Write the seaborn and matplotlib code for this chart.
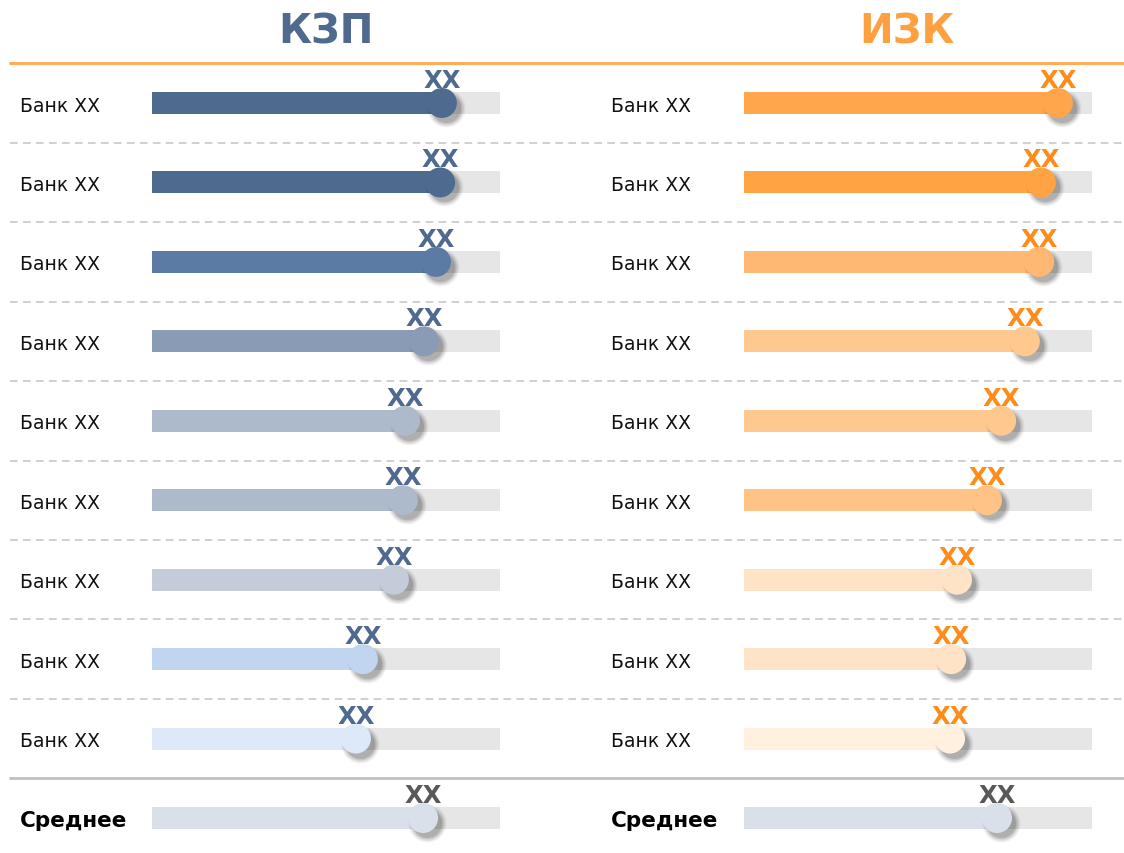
import matplotlib
matplotlib.use("Agg")
import numpy as np
import pandas as pd
import matplotlib.pyplot as plt
import seaborn as sns
from matplotlib.transforms import blended_transform_factory, offset_copy

# ---- data -------------------------------------------------------------
banks = ["Банк XX"] * 9
avg_label = "Среднее"

kzp_title = "КЗП"
kzp_values = [83.3, 82.8, 81.6, 78.2, 72.7, 72.1, 69.5, 60.6, 58.6]
kzp_avg = 77.9
kzp_value_labels = ["XX"] * 9
kzp_avg_value_label = "XX"

izk_title = "ИЗК"
izk_values = [90.2, 85.3, 84.8, 80.7, 73.9, 69.8, 61.2, 59.5, 59.2]
izk_avg = 72.7
izk_value_labels = ["XX"] * 9
izk_avg_value_label = "XX"

# ---- styles -----------------------------------------------------------
kzp_fills = ["#4f6a8f", "#4f6a8f", "#5c7ba4", "#8a9cb5", "#adbacb",
             "#adbacb", "#c4ccda", "#c1d5f0", "#dde8f8"]
izk_fills = ["#ffa64d", "#ffa343", "#ffb874", "#ffc88f", "#ffc88f",
             "#ffc385", "#ffe3c6", "#ffe3c6", "#fff0e0"]
avg_fill = "#d9e0ea"
track_color = "#e6e6e6"
kzp_color = "#50698f"
izk_title_color = "#ffa040"
izk_label_color = "#ff8c1a"
avg_text_color = "#595959"

W, H = 1124, 854
sns.set_theme(style="white")
plt.rcParams["font.family"] = ["DejaVu Sans"]

fig = plt.figure(figsize=(W / 100, H / 100), dpi=100)

ROW0, STEP = 104, 715 / 9
TOP = 64
y_top = -(ROW0 - TOP) / STEP
y_bottom = (H - ROW0) / STEP
BAR_W = 22 / STEP
CIRCLE_D_PT = 30 * 0.72


def draw_panel(x0, x1, title, title_x, title_color, values, avg, fills,
               value_labels, avg_value_label, label_color, label_x):
    ax = fig.add_axes([x0 / W, 0, (x1 - x0) / W, (H - TOP) / H])
    positions = np.arange(len(values) + 1)
    vals = list(values) + [avg]
    colors = list(fills) + [avg_fill]
    keys = [f"r{i}" for i in positions]
    df = pd.DataFrame({"pos": positions, "value": vals, "key": keys})

    # grey track
    sns.barplot(x=[100] * len(positions), y=positions, orient="h",
                native_scale=True, color=track_color, saturation=1,
                width=BAR_W, errorbar=None, ax=ax, zorder=1, linewidth=0)
    # filled part
    sns.barplot(data=df, x="value", y="pos", hue="key",
                palette=dict(zip(keys, colors)), orient="h",
                native_scale=True, width=BAR_W, dodge=False, legend=False,
                saturation=1, errorbar=None, ax=ax, zorder=2, linewidth=0)

    # soft shadow behind the knobs
    shadow_tr = offset_copy(ax.transData, fig=fig, x=4, y=-5, units="dots")
    for r, a in [(19, 0.05), (17.5, 0.08), (16, 0.1), (14.5, 0.12)]:
        ax.scatter(vals, positions, s=(2 * r * 0.72) ** 2, color="black",
                   alpha=a, linewidths=0, transform=shadow_tr, zorder=3,
                   clip_on=False)
    ax.scatter(vals, positions, s=CIRCLE_D_PT ** 2, c=colors, linewidths=0,
               zorder=4, clip_on=False)

    lbls = list(value_labels) + [avg_value_label]
    lcols = [label_color] * len(values) + [avg_text_color]
    for v, p, t, c in zip(vals, positions, lbls, lcols):
        ax.annotate(t, (v, p), xytext=(0, 11.5), textcoords="offset points",
                    ha="center", va="baseline", fontsize=17.5,
                    fontweight="bold", color=c, zorder=5,
                    annotation_clip=False)

    tr = blended_transform_factory(fig.transFigure, ax.transData)
    for p, name in zip(positions[:-1], banks):
        ax.text(label_x / W, p, name, transform=tr, ha="left",
                va="center_baseline", fontsize=13.5, color="#111111")
    ax.text(label_x / W, positions[-1], avg_label, transform=tr, ha="left",
            va="center_baseline", fontsize=15.5, fontweight="bold",
            color="#000000")

    fig.text(title_x / W, 1 - 43 / H, title, ha="center", va="baseline",
             fontsize=29, fontweight="bold", color=title_color)

    ax.set_xlim(0, 100)
    ax.set_ylim(y_bottom, y_top)
    ax.axis("off")
    return ax, tr


ax_l, tr_l = draw_panel(152, 500, kzp_title, 326, kzp_color, kzp_values,
                        kzp_avg, kzp_fills, kzp_value_labels,
                        kzp_avg_value_label, kzp_color, 20)
ax_r, _ = draw_panel(744, 1092, izk_title, 907, izk_title_color, izk_values,
                     izk_avg, izk_fills, izk_value_labels,
                     izk_avg_value_label, izk_label_color, 611)

# separators spanning the whole width
xs = [10 / W, 1.0]
ax_l.plot(xs, [-0.5, -0.5], transform=tr_l, color="#ffac5a", lw=2.2,
          clip_on=False, zorder=0)
for k in range(8):
    ax_l.plot(xs, [k + 0.5, k + 0.5], transform=tr_l, color="#c3c3c3",
              lw=1.1, ls=(0, (5, 3.5)), clip_on=False, zorder=0)
ax_l.plot(xs, [8.5, 8.5], transform=tr_l, color="#c0c0c0", lw=2.0,
          clip_on=False, zorder=0)

fig.savefig("out.png", dpi=100)
